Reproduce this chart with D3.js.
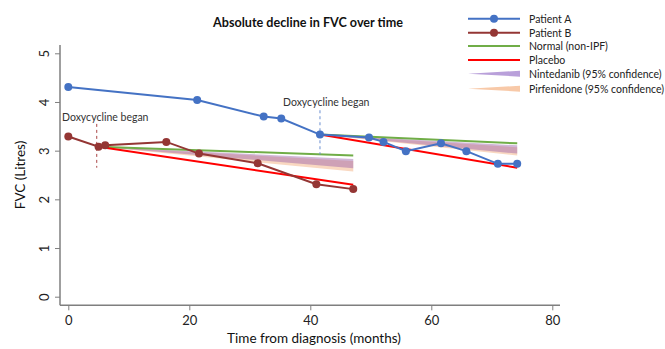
<!DOCTYPE html>
<html><head><meta charset="utf-8">
<script src="https://cdn.jsdelivr.net/npm/d3@7"></script>
<style>body{margin:0;background:#fff}svg{display:block;font-family:Lato,"Open Sans",sans-serif}</style>
</head><body><svg id="c" width="665" height="349"></svg>
<script>
const patientAMonths = [0, 21.3, 32.3, 35.2, 41.6, 49.7, 52.1, 55.8, 61.6, 65.8, 71.0, 74.2];
const patientAFVC    = [4.31, 4.04, 3.70, 3.66, 3.33, 3.27, 3.18, 2.99, 3.15, 2.99, 2.73, 2.73];
const patientBMonths = [0, 5.0, 6.1, 16.2, 21.6, 31.3, 41.0, 47.1];
const patientBFVC    = [3.29, 3.08, 3.11, 3.18, 2.94, 2.74, 2.31, 2.21];
// projections from doxycycline start: [startMonth, startFVC, endMonth, endValue]
const normalLines  = [[5.0, 3.08, 47.1, 2.90], [41.6, 3.33, 74.2, 3.15]];
const placeboLines = [[5.0, 3.08, 47.1, 2.30], [41.6, 3.33, 74.2, 2.65]];
// bands: [startMonth, startFVC, endMonth, endUpper, endLower]
const nintedanibBands  = [[5.0, 3.08, 47.1, 2.83, 2.64], [41.6, 3.33, 74.2, 3.11, 2.94]];
const pirfenidoneBands = [[5.0, 3.08, 47.1, 2.79, 2.57], [41.6, 3.33, 74.2, 3.07, 2.90]];
const doxyStart = [{m: 4.7, lo: 2.65, hi: 3.55, color: "#A94444"}, {m: 41.6, lo: 2.92, hi: 3.83, color: "#6A8FD0"}];
const xTicks = [0, 20, 40, 60, 80];
const yTicks = [0, 1, 2, 3, 4, 5];
const legendLabels = ["Patient A", "Patient B", "Normal (non-IPF)", "Placebo", "Nintedanib (95% confidence)", "Pirfenidone (95% confidence)"];

const C = {A: "#4472C4", B: "#943634", normal: "#70AD47", placebo: "#FF0000", nint: "#9A5FA8", pirf: "#F4B183"};

const svg = d3.select("#c");
const x = d3.scaleLinear().domain([0, 80]).range([68.3, 552.3]);
const y = d3.scaleLinear().domain([0, 5]).range([296.7, 53.3]);
const axisCol = "#7f7f7f";

// axes
const gx = svg.append("g").attr("transform", "translate(0,305.3)")
  .call(d3.axisBottom(x).tickValues(xTicks).tickFormat(d3.format("d")).tickSize(5).tickSizeOuter(0).tickPadding(5));
gx.select(".domain").attr("d", "M60,0H560");
const gy = svg.append("g").attr("transform", "translate(60,0)")
  .call(d3.axisLeft(y).tickValues(yTicks).tickFormat(d3.format("d")).tickSize(5).tickSizeOuter(0).tickPadding(6));
gy.select(".domain").attr("d", "M0,45V305.3");
[gx, gy].forEach(g => {
  g.selectAll(".domain").attr("stroke", axisCol).attr("stroke-width", 1.5);
  g.selectAll(".tick line").attr("stroke", axisCol);
  g.selectAll("text").attr("fill", "#222").style("font-size", "13px").style("font-family", "Lato, sans-serif");
});
gy.selectAll(".tick text").attr("transform", "rotate(-90)").attr("x", 0).attr("y", -11)
  .attr("text-anchor", "middle").attr("dy", "0");

// bands
const bandArea = (b) => `M${x(b[0])},${y(b[1])}L${x(b[2])},${y(b[3])}L${x(b[2])},${y(b[4])}Z`;
svg.selectAll(".pirf").data(pirfenidoneBands).join("path").attr("d", bandArea)
  .attr("fill", C.pirf).attr("opacity", 0.5);
svg.selectAll(".nint").data(nintedanibBands).join("path").attr("d", bandArea)
  .attr("fill", C.nint).attr("opacity", 0.45);

// projection lines
svg.selectAll(".norm").data(normalLines).join("line")
  .attr("x1", d => x(d[0])).attr("y1", d => y(d[1])).attr("x2", d => x(d[2])).attr("y2", d => y(d[3]))
  .attr("stroke", C.normal).attr("stroke-width", 2);
svg.selectAll(".plac").data(placeboLines).join("line")
  .attr("x1", d => x(d[0])).attr("y1", d => y(d[1])).attr("x2", d => x(d[2])).attr("y2", d => y(d[3]))
  .attr("stroke", C.placebo).attr("stroke-width", 2);

// doxycycline markers
svg.selectAll(".doxy").data(doxyStart).join("line")
  .attr("x1", d => x(d.m)).attr("x2", d => x(d.m)).attr("y1", d => y(d.hi)).attr("y2", d => y(d.lo))
  .attr("stroke", d => d.color).attr("stroke-width", 1).attr("stroke-dasharray", "3,3");
svg.append("text").attr("x", 62).attr("y", 120.5).text("Doxycycline began")
  .style("font-size", "10.5px").attr("fill", "#333");
svg.append("text").attr("x", 283).attr("y", 105.5).text("Doxycycline began")
  .style("font-size", "10.5px").attr("fill", "#333");

// patient series
const line = d3.line().x(d => x(d[0])).y(d => y(d[1]));
const series = [
  {pts: d3.zip(patientAMonths, patientAFVC), color: C.A},
  {pts: d3.zip(patientBMonths, patientBFVC), color: C.B}
];
series.forEach(s => {
  svg.append("path").attr("d", line(s.pts)).attr("fill", "none").attr("stroke", s.color).attr("stroke-width", 2);
  svg.selectAll(null).data(s.pts).join("circle").attr("cx", d => x(d[0])).attr("cy", d => y(d[1]))
    .attr("r", 4).attr("fill", s.color);
});

// title & labels
svg.append("text").attr("x", 308).attr("y", 27).attr("text-anchor", "middle")
  .style("font-size", "12.6px").style("font-weight", "bold").attr("fill", "#111")
  .text("Absolute decline in FVC over time");
svg.append("text").attr("x", 314).attr("y", 343).attr("text-anchor", "middle")
  .style("font-size", "13.5px").attr("fill", "#111").text("Time from diagnosis (months)");
svg.append("text").attr("transform", "translate(25,175) rotate(-90)").attr("text-anchor", "middle")
  .style("font-size", "13.5px").attr("fill", "#111").text("FVC (Litres)");

// legend
const lg = svg.append("g");
const rowY = [18.7, 32.7, 46, 60, 73.7, 88.7];
legendLabels.forEach((lab, i) => {
  const yy = rowY[i];
  if (i < 4) {
    const col = [C.A, C.B, C.normal, C.placebo][i];
    lg.append("line").attr("x1", 468).attr("x2", 520).attr("y1", yy).attr("y2", yy)
      .attr("stroke", col).attr("stroke-width", 2);
    if (i < 2) lg.append("circle").attr("cx", 494).attr("cy", yy).attr("r", 4).attr("fill", col);
  } else {
    const col = i === 4 ? "#B9A0DA" : "#F8C9A8";
    lg.append("path").attr("d", `M468,${yy}L520,${yy - 3}L520,${yy + 3}Z`).attr("fill", col);
  }
  lg.append("text").attr("x", 529).attr("y", yy + 4).text(lab).style("font-size", "10.5px").attr("fill", "#222");
});
</script></body></html>
